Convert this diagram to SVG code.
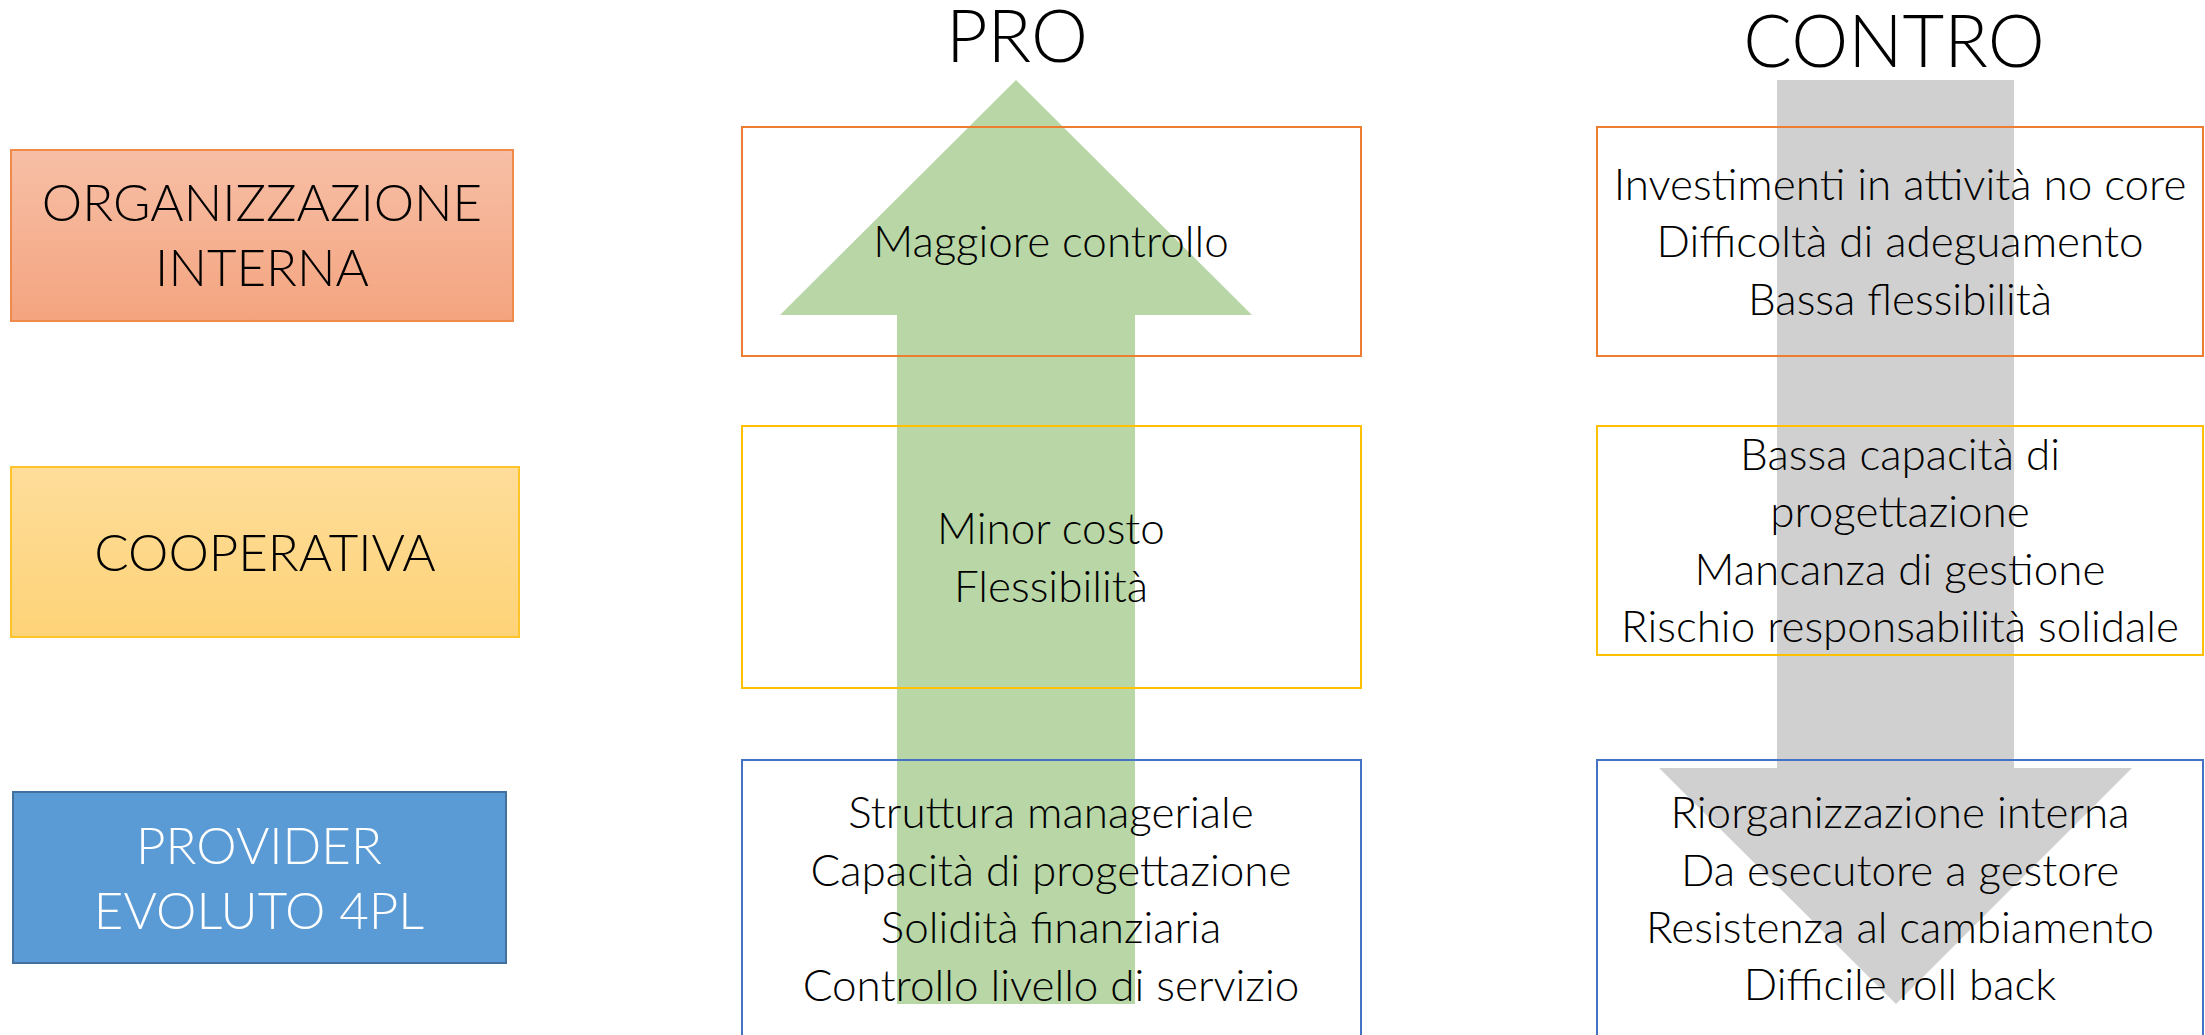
<svg xmlns="http://www.w3.org/2000/svg" width="2205" height="1035" viewBox="0 0 2205 1035">
<defs>
<linearGradient id="gOrg" x1="0" y1="0" x2="0" y2="1"><stop offset="0" stop-color="#F7BFA6"/><stop offset="1" stop-color="#F4A47F"/></linearGradient>
<linearGradient id="gCoop" x1="0" y1="0" x2="0" y2="1"><stop offset="0" stop-color="#FEDD9A"/><stop offset="1" stop-color="#FED378"/></linearGradient>
</defs>
<style>
text{font-family:Lato,"Open Sans","Liberation Sans",sans-serif;font-weight:300;fill:#000;text-anchor:middle}
.lbl{font-size:51px}
.item{font-size:44px}
.hdr{font-size:72px}
.box{fill:none;stroke-width:2}
.white{fill:#fff}
</style>
<g id="arrows">
<polygon points="1016,80 1252,315 1135,315 1135,1004 897,1004 897,315 780,315" fill="#B8D6A6"/>
<polygon points="1777,80 2014,80 2014,768 2132,768 1896,1004 1659,768 1777,768" fill="#D0D0D0"/>
</g>
<g id="hdr-pro"><text class="hdr" x="1017" y="62">PRO</text></g>
<g id="hdr-contro"><text class="hdr" x="1894" y="67">CONTRO</text></g>
<g id="lbl-org">
<rect x="11" y="150" width="502" height="171" fill="url(#gOrg)" stroke="#F08A4B" stroke-width="2"/>
<text class="lbl" x="262" y="221">ORGANIZZAZIONE</text>
<text class="lbl" x="262" y="286">INTERNA</text>
</g>
<g id="lbl-coop">
<rect x="11" y="467" width="508" height="170" fill="url(#gCoop)" stroke="#FFC42A" stroke-width="2"/>
<text class="lbl" x="265" y="571">COOPERATIVA</text>
</g>
<g id="lbl-4pl">
<rect x="13" y="792" width="493" height="171" fill="#5B9BD5" stroke="#41719C" stroke-width="2"/>
<text class="lbl white" x="259" y="864">PROVIDER</text>
<text class="lbl white" x="259" y="929">EVOLUTO 4PL</text>
</g>
<g id="pro-org">
<rect class="box" x="742" y="127" width="619" height="229" stroke="#ED7D31"/>
<text class="item" x="1051" y="257">Maggiore controllo</text>
</g>
<g id="pro-coop">
<rect class="box" x="742" y="426" width="619" height="262" stroke="#FFC000"/>
<text class="item" x="1051" y="544">Minor costo</text>
<text class="item" x="1051" y="602">Flessibilità</text>
</g>
<g id="pro-4pl">
<rect class="box" x="742" y="760" width="619" height="290" stroke="#4472C4"/>
<text class="item" x="1051" y="828">Struttura manageriale</text>
<text class="item" x="1051" y="886">Capacità di progettazione</text>
<text class="item" x="1051" y="943">Solidità finanziaria</text>
<text class="item" x="1051" y="1001">Controllo livello di servizio</text>
</g>
<g id="con-org">
<rect class="box" x="1597" y="127" width="606" height="229" stroke="#ED7D31"/>
<text class="item" x="1900" y="200">Investimenti in attività no core</text>
<text class="item" x="1900" y="257">Difficoltà di adeguamento</text>
<text class="item" x="1900" y="315">Bassa flessibilità</text>
</g>
<g id="con-coop">
<rect class="box" x="1597" y="426" width="606" height="229" stroke="#FFC000"/>
<text class="item" x="1900" y="470">Bassa capacità di</text>
<text class="item" x="1900" y="527">progettazione</text>
<text class="item" x="1900" y="585">Mancanza di gestione</text>
<text class="item" x="1900" y="642">Rischio responsabilità solidale</text>
</g>
<g id="con-4pl">
<rect class="box" x="1597" y="760" width="606" height="290" stroke="#4472C4"/>
<text class="item" x="1900" y="828">Riorganizzazione interna</text>
<text class="item" x="1900" y="886">Da esecutore a gestore</text>
<text class="item" x="1900" y="943">Resistenza al cambiamento</text>
<text class="item" x="1900" y="1000">Difficile roll back</text>
</g>
</svg>
